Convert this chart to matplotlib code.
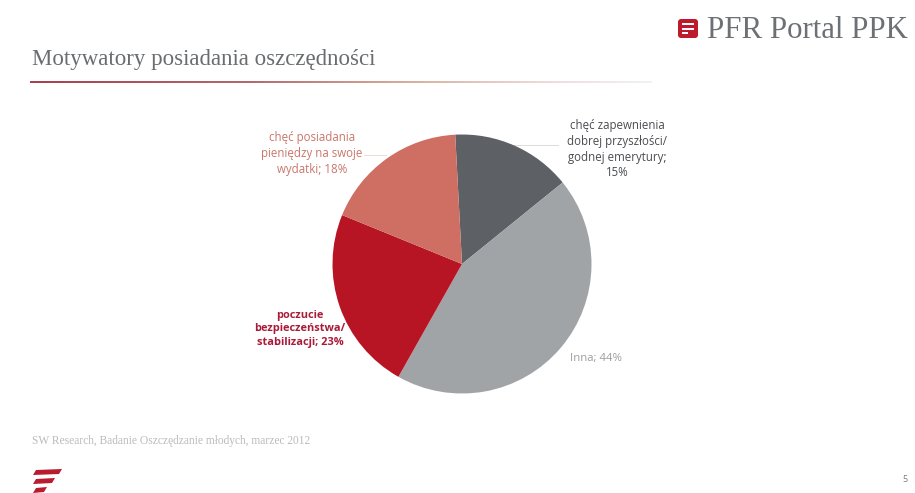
import matplotlib
matplotlib.use('Agg')
import matplotlib.pyplot as plt
import matplotlib.patches as patches
from matplotlib.colors import LinearSegmentedColormap
import numpy as np

W, H = 915, 493

title = 'Motywatory posiadania oszczędności'
brand = 'PFR Portal PPK'
source = 'SW Research, Badanie Oszczędzanie młodych, marzec 2012'
page = '5'

shares = [15, 44, 23, 18]
colors = ['#5d6064', '#a1a4a7', '#b81524', '#cf6e63']
labels = ['chęć zapewnienia\ndobrej przyszłości/\ngodnej emerytury;\n15%',
          'Inna; 44%',
          'poczucie\nbezpieczeństwa/\nstabilizacji; 23%',
          'chęć posiadania\npieniędzy na swoje\nwydatki; 18%']
label_colors = ['#4a4c50', '#9a9da0', '#a81c3a', '#c9766c']
label_weights = ['normal', 'normal', 'bold', 'normal']
label_x = [617, 596, 300, 312]
label_y = [149, 358, 329, 154]
label_sizes = [8.3, 8.2, 7.9, 8.3]

fig = plt.figure(figsize=(W / 100, H / 100), dpi=100, facecolor='white')

# overlay axes in pixel coordinates, y pointing down
bg = fig.add_axes([0, 0, 1, 1])
bg.set_xlim(0, W)
bg.set_ylim(H, 0)
bg.axis('off')

# pie sits in its own square axes
cx, cy, r = 462, 264, 129.5
pie_ax = fig.add_axes([(cx - r) / W, 1 - (cy + r) / H, 2 * r / W, 2 * r / H])
pie_ax.pie(shares, colors=colors, startangle=93, counterclock=False, radius=1,
           wedgeprops={'linewidth': 0})
pie_ax.set_xlim(-1, 1)
pie_ax.set_ylim(-1, 1)

# heading and rule that fades out to the right
bg.text(32, 59, title, family='Liberation Serif', fontsize=16.5, color='#6a6d70',
        ha='left', va='center')
rule_cmap = LinearSegmentedColormap.from_list(
    'rule', [(0, '#a8404f'), (0.35, '#b5686a'), (0.65, '#dcb9a8'), (0.85, '#f0dde0'), (1, '#f2f2f2')])
bg.imshow(np.linspace(0, 1, 256)[None, :], cmap=rule_cmap, extent=[30, 652, 83, 81],
          aspect='auto', interpolation='bilinear')
bg.set_xlim(0, W)
bg.set_ylim(H, 0)

# brand mark top right
bg.add_patch(patches.FancyBboxPatch((678, 19), 20, 19, boxstyle='round,pad=0,rounding_size=3',
                                    fc='#bd1a2c', ec='none'))
for y0, x1 in [(24, 694), (28.5, 694), (33, 688)]:
    bg.plot([682, x1], [y0, y0], color='white', lw=1.4, solid_capstyle='butt')
bg.text(707, 30, brand, family='Liberation Serif', fontsize=22.2, color='#6d7074',
        ha='left', va='center')

# leader lines
bg.plot([505, 558], [145, 145], color='#dcdcdc', lw=0.7)
bg.plot([364, 386], [155, 155], color='#ecdcd8', lw=0.7)

for text, c, w, x, y, s in zip(labels, label_colors, label_weights, label_x, label_y, label_sizes):
    bg.text(x, y, text, family='Open Sans', fontsize=s, color=c, fontweight=w,
            ha='center', va='center', linespacing=1.3)

# footer
bg.text(32, 441, source, family='Liberation Serif', fontsize=8.3, color='#b9bbbd',
        ha='left', va='center')
bg.text(905, 480, page, family='Open Sans', fontsize=6.5, color='#777a7d',
        ha='center', va='center')

# three slanted bars of the footer logo
for y0, y1, x0, x1 in [(470, 475, 33, 62), (479, 484, 33, 55), (488, 493, 33, 47)]:
    bg.add_patch(patches.Polygon([(x0 + 3, y0), (x1, y0 - 1), (x1 - 3, y1 - 1), (x0, y1)],
                                 closed=True, fc='#b81c2e', ec='none'))

fig.savefig('out.png', dpi=100, facecolor='white')
